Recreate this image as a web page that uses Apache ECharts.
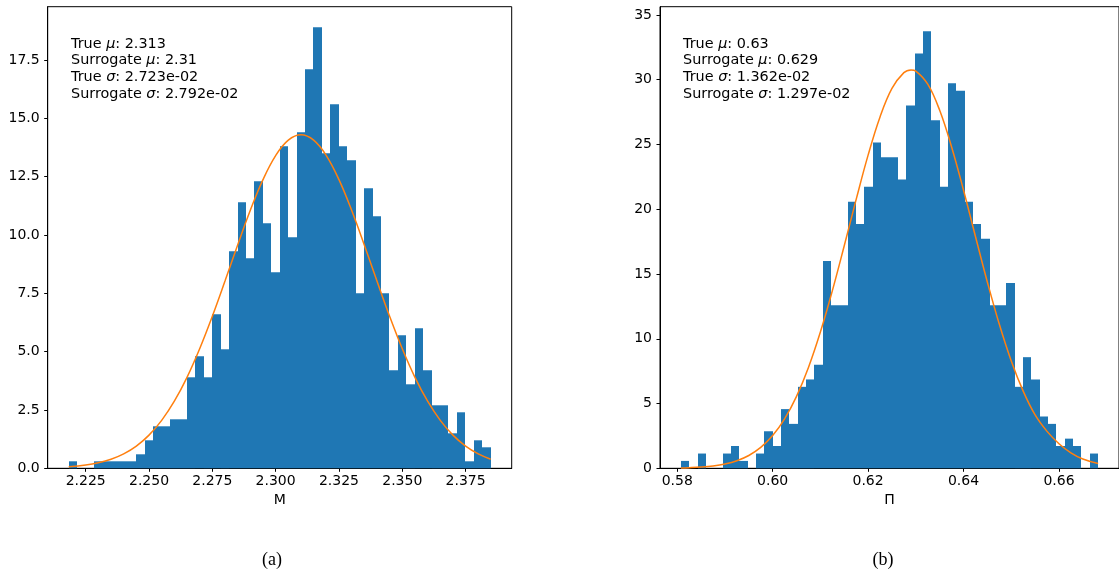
<!DOCTYPE html>
<html>
<head>
<meta charset="utf-8">
<script src="https://cdn.jsdelivr.net/npm/echarts@6/dist/echarts.min.js"></script>
<style>
html,body{margin:0;padding:0;background:#fff;}
#chart{width:1119px;height:573px;}
</style>
</head>
<body>
<div id="chart"></div>
<script>
// ---------- Data: panel (a) M ----------
const mBinRange = [2.2183, 2.3849];
const mDensity = [0.3, 0, 0, 0.3, 0.3, 0.3, 0.3, 0.3, 0.6, 1.2,
  1.8, 1.8, 2.1, 2.1, 3.9, 4.8, 3.9, 6.6, 5.1, 9.3,
  11.4, 9.0, 12.3, 10.5, 8.4, 13.8, 9.9, 14.4, 17.1, 18.9,
  13.5, 15.6, 13.8, 13.2, 7.5, 12.0, 10.8, 7.5, 4.2, 5.7,
  3.6, 6.0, 4.2, 2.7, 2.7, 1.5, 2.4, 0.3, 1.2, 0.9];
const mCurveX = [2.2183, 2.225, 2.23, 2.235, 2.24, 2.245, 2.25, 2.255, 2.26, 2.265, 2.27, 2.275, 2.28, 2.285, 2.29, 2.295, 2.30, 2.305, 2.31, 2.315, 2.32, 2.325, 2.33, 2.335, 2.34, 2.345, 2.35, 2.355, 2.36, 2.365, 2.37, 2.375, 2.38, 2.3849];
const mCurveY = [0.065, 0.139, 0.236, 0.387, 0.617, 0.951, 1.421, 2.054, 2.874, 3.898, 5.122, 6.514, 8.023, 9.572, 11.056, 12.37, 13.40, 14.06, 14.29, 14.06, 13.40, 12.37, 11.056, 9.572, 8.023, 6.514, 5.122, 3.898, 2.874, 2.054, 1.421, 0.951, 0.617, 0.391];
const mXTicks = [2.225, 2.250, 2.275, 2.300, 2.325, 2.350, 2.375];
const mYTicks = [0, 2.5, 5, 7.5, 10, 12.5, 15, 17.5];
const mXLim = [2.2100, 2.3932];
const mYLim = [0, 19.78];
const mStats = ['2.313', '2.31', '2.723e-02', '2.792e-02'];

// ---------- Data: panel (b) Π ----------
const pBinRange = [0.58076, 0.66821];
const pDensity = [0.57, 0, 1.14, 0, 0, 1.14, 1.72, 0.57, 0, 1.14,
  2.86, 1.72, 4.57, 3.43, 6.29, 6.86, 8.0, 16.01, 12.58, 12.58,
  20.58, 18.87, 21.73, 25.16, 24.02, 24.02, 22.3, 28.02, 32.02, 33.74,
  26.88, 21.73, 29.73, 29.16, 20.58, 18.87, 17.73, 12.58, 12.58, 14.3,
  6.29, 8.58, 6.86, 4.0, 3.43, 1.72, 2.29, 1.72, 0, 1.14];
const pCurveX = [0.58076, 0.5825, 0.585, 0.5875, 0.59, 0.5925, 0.595, 0.5975, 0.60, 0.6025, 0.605, 0.6075, 0.61, 0.6125, 0.615, 0.6175, 0.62, 0.6225, 0.625, 0.6275, 0.629, 0.63, 0.6325, 0.635, 0.6375, 0.64, 0.6425, 0.645, 0.6475, 0.65, 0.6525, 0.655, 0.6575, 0.66, 0.6625, 0.665, 0.66821];
const pCurveY = [0.03, 0.05, 0.098, 0.184, 0.335, 0.586, 0.99, 1.611, 2.525, 3.817, 5.553, 7.786, 10.52, 13.70, 17.18, 20.76, 24.18, 27.13, 29.33, 30.55, 30.76, 30.67, 29.66, 27.64, 24.81, 21.47, 17.90, 14.37, 11.12, 8.29, 5.96, 4.12, 2.85, 1.9, 1.2, 0.72, 0.37];
const pXTicks = [0.58, 0.60, 0.62, 0.64, 0.66];
const pYTicks = [0, 5, 10, 15, 20, 25, 30, 35];
const pXLim = [0.57639, 0.67258];
const pYLim = [0, 35.64];
const pStats = ['0.63', '0.629', '1.362e-02', '1.297e-02'];

// ---------- Build ----------
function histItems(range, dens) {
  const n = dens.length, w = (range[1] - range[0]) / n;
  return dens.map((h, i) => [range[0] + i * w, range[0] + (i + 1) * w, h]);
}
function curveItems(xs, ys) { return xs.map((x, i) => [x, ys[i]]); }

const BLUE = '#1f77b4', ORANGE = '#ff7f0e';
const FONT = 'DejaVu Sans';
const TXT = '#000';

function renderBar(params, api) {
  const x0 = api.value(0), x1 = api.value(1), h = api.value(2);
  if (h <= 0) return null;
  const p0 = api.coord([x0, h]);
  const p1 = api.coord([x1, 0]);
  const l = Math.round(p0[0]), r = Math.round(p1[0]);
  return {
    type: 'rect',
    shape: { x: l, y: p0[1], width: r - l, height: p1[1] - p0[1] },
    style: { fill: BLUE }
  };
}

function xAxisCfg(idx, lim, ticks, dec, name) {
  return {
    type: 'value', gridIndex: idx, min: lim[0], max: lim[1],
    name: name, nameLocation: 'middle', nameGap: 25,
    nameTextStyle: { fontFamily: FONT, fontSize: 14, color: TXT },
    axisLine: { show: true, onZero: false, lineStyle: { color: '#000', width: 1 } },
    axisTick: { show: true, inside: false, length: 3.5, customValues: ticks, lineStyle: { color: '#000', width: 1 } },
    axisLabel: { show: true, margin: 6, customValues: ticks, fontFamily: FONT, fontSize: 14, color: TXT,
      formatter: v => Number(v).toFixed(dec) },
    splitLine: { show: false }
  };
}
function yAxisCfg(idx, lim, ticks, dec) {
  return {
    type: 'value', gridIndex: idx, min: lim[0], max: lim[1],
    axisLine: { show: true, lineStyle: { color: '#000', width: 1 } },
    axisTick: { show: true, inside: false, length: 3.5, customValues: ticks, lineStyle: { color: '#000', width: 1 } },
    axisLabel: { show: true, margin: 8, customValues: ticks, fontFamily: FONT, fontSize: 14, color: TXT,
      formatter: v => Number(v).toFixed(dec) },
    splitLine: { show: false }
  };
}

function statsText(x, y0, stats) {
  const labels = [['True ', 'μ'], ['Surrogate ', 'μ'], ['True ', 'σ'], ['Surrogate ', 'σ']];
  return labels.map((l, i) => ({
    type: 'text', left: x, top: y0 + i * 16.6,
    style: {
      text: l[0] + '{i|' + l[1] + '}: ' + stats[i],
      font: '14.4px "' + FONT + '"', fill: TXT,
      rich: { i: { fontStyle: 'italic', fontFamily: FONT, fontSize: 14.4, fill: TXT } }
    }
  }));
}

const chart = echarts.init(document.getElementById('chart'), null, { renderer: 'canvas' });
chart.setOption({
  animation: false,
  backgroundColor: '#fff',
  grid: [
    { left: 47.7, top: 6.7, width: 464, height: 461.6, show: true, borderColor: '#000', borderWidth: 1, backgroundColor: 'transparent' },
    { left: 660, top: 6.7, width: 465.3, height: 461.6, show: true, borderColor: '#000', borderWidth: 1, backgroundColor: 'transparent' }
  ],
  xAxis: [xAxisCfg(0, mXLim, mXTicks, 3, 'M'), xAxisCfg(1, pXLim, pXTicks, 2, 'Π')],
  yAxis: [yAxisCfg(0, mYLim, mYTicks, 1), yAxisCfg(1, pYLim, pYTicks, 0)],
  series: [
    { type: 'custom', xAxisIndex: 0, yAxisIndex: 0, renderItem: renderBar,
      encode: { x: [0, 1], y: 2 }, data: histItems(mBinRange, mDensity), z: 2 },
    { type: 'line', xAxisIndex: 0, yAxisIndex: 0, data: curveItems(mCurveX, mCurveY),
      smooth: 0.4, showSymbol: false, symbol: 'none', lineStyle: { color: ORANGE, width: 1.5 }, z: 3 },
    { type: 'custom', xAxisIndex: 1, yAxisIndex: 1, renderItem: renderBar,
      encode: { x: [0, 1], y: 2 }, data: histItems(pBinRange, pDensity), z: 2 },
    { type: 'line', xAxisIndex: 1, yAxisIndex: 1, data: curveItems(pCurveX, pCurveY),
      smooth: 0.4, showSymbol: false, symbol: 'none', lineStyle: { color: ORANGE, width: 1.5 }, z: 3 }
  ],
  graphic: [].concat(
    statsText(71, 37, mStats),
    statsText(683, 37, pStats),
    [
      { type: 'text', style: { text: '(a)', font: '18px "Liberation Serif"', fill: TXT, x: 272, y: 560, align: 'center', verticalAlign: 'middle' } },
      { type: 'text', style: { text: '(b)', font: '18px "Liberation Serif"', fill: TXT, x: 883, y: 560, align: 'center', verticalAlign: 'middle' } }
    ]
  )
});
</script>
</body>
</html>
